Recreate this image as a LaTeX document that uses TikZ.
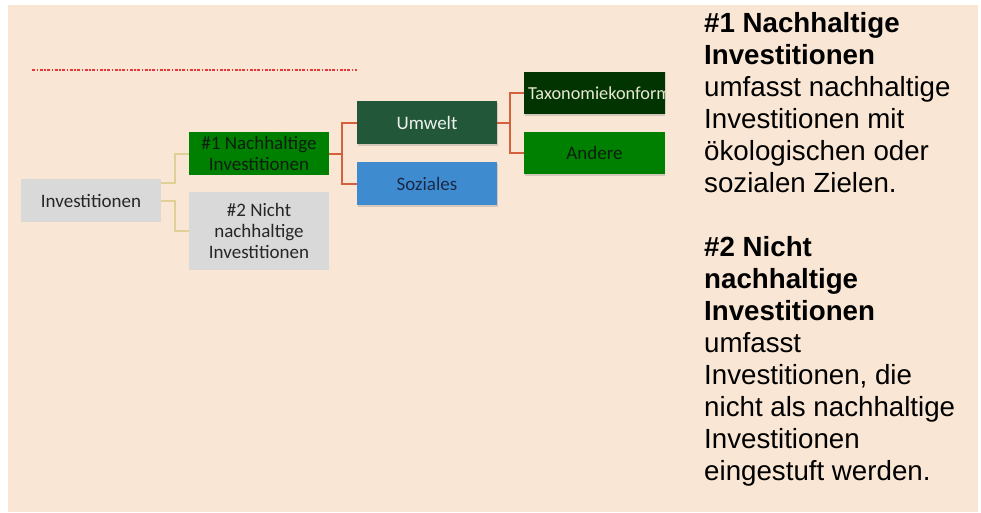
\documentclass[tikz,border=0pt]{standalone}
\usepackage{fontspec}
\setmainfont{Liberation Sans}
\newfontfamily\boxfont{Carlito}
\usetikzlibrary{shadows}
\definecolor{peach}{HTML}{F9E6D4}
\definecolor{boxgrey}{HTML}{D9D9D9}
\definecolor{greytext}{HTML}{262626}
\definecolor{sustgreen}{HTML}{008000}
\definecolor{sustgreentext}{HTML}{0E1E0E}
\definecolor{envgreen}{HTML}{23573A}
\definecolor{envtext}{HTML}{EEF2EE}
\definecolor{socblue}{HTML}{3F8BD0}
\definecolor{soctext}{HTML}{1B2A48}
\definecolor{taxgreen}{HTML}{023402}
\definecolor{taxtext}{HTML}{E8E8D4}
\definecolor{tanline}{HTML}{E0CF96}
\definecolor{rustline}{HTML}{D4603E}
\definecolor{cutred}{HTML}{E8393A}
\begin{document}
\begin{tikzpicture}[x=1pt,y=-1pt,
    box/.style={inner sep=0pt, minimum width=140pt, minimum height=43pt, align=center,
      font=\boxfont\fontsize{19}{21}\selectfont},
    greybox/.style={box, fill=boxgrey, text=greytext},
    shadowed/.style={drop shadow={shadow xshift=1pt, shadow yshift=-1.5pt, opacity=0.3}},
    tanlink/.style={draw=tanline, line width=2pt},
    rustlink/.style={draw=rustline, line width=2pt}]
      \useasboundingbox (0,0) rectangle (981,512);
      \fill[white] (0,0) rectangle (981,512);
      \fill[peach] (8,5) rectangle (978,512);
      % cut-off caption line at the top of the chart
      \draw[cutred, line width=2.2pt, dash pattern=on 3pt off 1.5pt on 1.5pt off 1.5pt] (32,70) -- (357,70);
      \begin{scope}
        \clip (0,0) rectangle (665,512);
        \draw
          (91,200.5) node[greybox] (0){Investitionen}
          (259,153.5) node[box, fill=sustgreen, text=sustgreentext] (1){\#1 Nachhaltige\\Investitionen}
          (259,231) node[greybox, minimum height=78pt] (2){\#2 Nicht\\nachhaltige\\Investitionen}
          (427,122.5) node[box, shadowed, fill=envgreen, text=envtext] (3){Umwelt}
          (427,183.5) node[box, shadowed, fill=socblue, text=soctext] (4){Soziales}
          (600,93) node[box, shadowed, minimum width=152pt, minimum height=42pt, text width=144pt, inner xsep=4pt, align=left,
            font=\boxfont\fontsize{18.3}{21}\selectfont, fill=taxgreen, text=taxtext] (5){Taxonomiekonform}
          (594.5,153) node[box, shadowed, minimum width=141pt, minimum height=42pt, fill=sustgreen, text=sustgreentext] (6){Andere};
      \end{scope}
      \begin{scope}[tanlink]
        \draw ([yshift=17.5pt]0.east) -- ++(14,0) |- (1.west);
        \draw (0.east) -- ++(14,0) |- (2.west);
      \end{scope}
      \begin{scope}[rustlink]
        \draw (1.east) -- ++(13,0) |- (3.west);
        \draw (1.east) -- ++(13,0) |- (4.west);
        \draw (3.east) -- ++(13,0) |- (5.west);
        \draw (3.east) -- ++(13,0) |- (6.west);
      \end{scope}
      \node[anchor=north west, inner sep=0pt, align=left, font=\fontsize{27.7}{32}\selectfont] (7) at (704,12)
        {\textbf{\#1 Nachhaltige}\\ \textbf{Investitionen}\\ umfasst nachhaltige\\ Investitionen mit\\
         ökologischen oder\\ sozialen Zielen.\\[32pt]
         \textbf{\#2 Nicht}\\ \textbf{nachhaltige}\\ \textbf{Investitionen}\\ umfasst\\
         Investitionen, die\\ nicht als nachhaltige\\ Investitionen\\ eingestuft werden.};
    \end{tikzpicture}
\end{document}
